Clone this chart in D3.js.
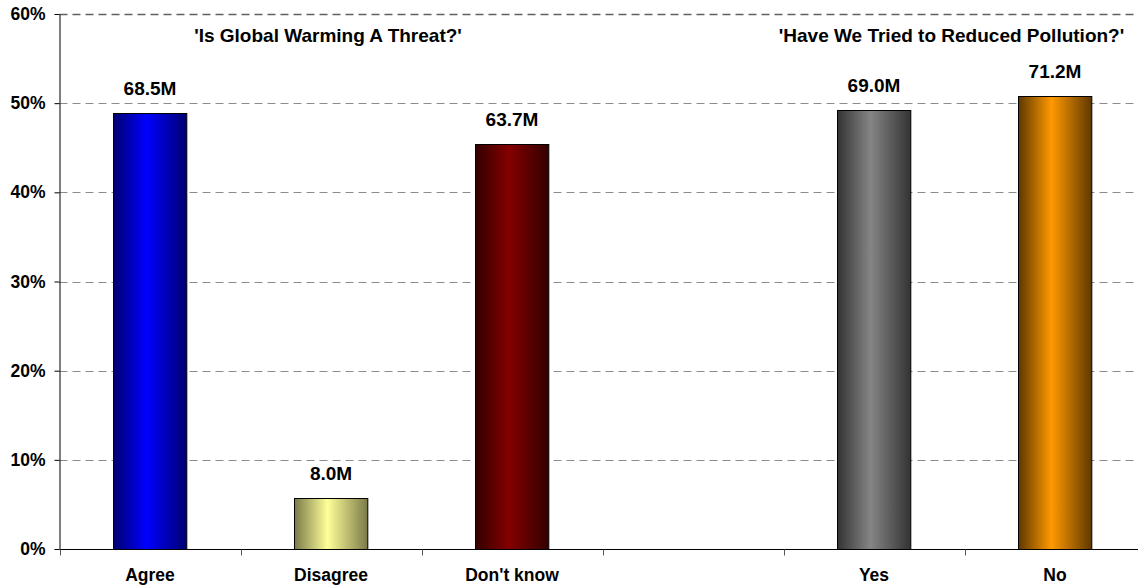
<!DOCTYPE html>
<html><head><meta charset="utf-8">
<script src="https://cdn.jsdelivr.net/npm/d3@7"></script>
<style>body{margin:0;background:#fff}svg{display:block}text{font-family:"Liberation Sans",Arial,sans-serif;font-weight:bold;fill:#000}</style>
</head><body><svg id="c" width="1138" height="587"></svg>
<script>
const categories = ["Agree","Disagree","Don't know","","Yes","No"];
const percents = [48.9, 5.7, 45.4, null, 49.2, 50.8];
const valueLabels = ["68.5M","8.0M","63.7M","","69.0M","71.2M"];
const yTicks = [0,10,20,30,40,50,60];
const groupTitles = ["'Is Global Warming A Threat?'","'Have We Tried to Reduced Pollution?'"];
const groupSpans = [["Agree","Don't know"],["Yes","No"]];
const colorsEdge = ["#000070","#7a7a48","#330000","#333333","#5e3800"];
const colorsMid  = ["#0000ff","#ffff99","#840000","#858585","#ff9900"];

const svg = d3.select("#c");
const plotLeft = 59.5, plotTop = 14, plotBottom = 549, slot = 181;
const x = d3.scaleBand().domain(categories).range([plotLeft, plotLeft + slot*categories.length]).padding(0);
const y = d3.scaleLinear().domain([0,60]).range([plotBottom, plotTop]);

const defs = svg.append("defs");
const barIdx = categories.map((c,i)=>i).filter(i=>percents[i]!=null);
barIdx.forEach((i,k)=>{
  const g = defs.append("linearGradient").attr("id","g"+i).attr("x1","0").attr("x2","1").attr("y1","0").attr("y2","0");
  g.append("stop").attr("offset","0").attr("stop-color",colorsEdge[k]);
  g.append("stop").attr("offset","0.45").attr("stop-color",colorsMid[k]);
  g.append("stop").attr("offset","1").attr("stop-color",colorsEdge[k]);
});

// gridlines
svg.append("g").selectAll("line").data(yTicks.filter(t=>t>0)).join("line")
  .attr("x1",plotLeft).attr("x2",1138).attr("y1",d=>Math.round(y(d))+0.5).attr("y2",d=>Math.round(y(d))+0.5)
  .attr("stroke",d=>d===60?"#606060":"#8c8c8c").attr("stroke-width",d=>d===60?1.5:1)
  .attr("stroke-dasharray","8,5");

// y axis
const yAxis = svg.append("g").attr("transform",`translate(${plotLeft},0)`)
  .call(d3.axisLeft(y).tickValues(yTicks).tickFormat(d=>d+"%").tickSize(5).tickSizeOuter(0));
yAxis.select(".domain").attr("stroke","#000");
yAxis.selectAll(".tick line").attr("stroke","#000");
yAxis.selectAll(".tick text").attr("x",-14).attr("font-size",17.5).attr("font-family","Liberation Sans, Arial, sans-serif").attr("font-weight","bold").attr("fill","#000");

// x axis
const xAxis = svg.append("g").attr("transform",`translate(0,${plotBottom+0.5})`);
xAxis.append("line").attr("x1",plotLeft).attr("x2",1138).attr("stroke","#000");
xAxis.selectAll("line.t").data(categories).join("line").attr("class","t")
  .attr("x1",d=>Math.round(x(d))+0.5).attr("x2",d=>Math.round(x(d))+0.5).attr("y1",0).attr("y2",6).attr("stroke","#555");
xAxis.selectAll("text").data(categories).join("text")
  .attr("x",d=>x(d)+x.bandwidth()/2).attr("y",31).attr("text-anchor","middle").attr("font-size",17.5).text(d=>d);

// bars
const bw = x.bandwidth()*0.405;
svg.append("g").selectAll("rect").data(barIdx).join("rect")
  .attr("x",i=>Math.round(x(categories[i])+x.bandwidth()/2-bw/2)+0.5)
  .attr("y",i=>Math.round(y(percents[i]))+0.5)
  .attr("width",bw).attr("height",i=>plotBottom-Math.round(y(percents[i])))
  .attr("fill",i=>`url(#g${i})`).attr("stroke","#000").attr("stroke-width",1);

// value labels
svg.append("g").selectAll("text").data(barIdx).join("text")
  .attr("x",i=>x(categories[i])+x.bandwidth()/2).attr("y",i=>y(percents[i])-18)
  .attr("text-anchor","middle").attr("font-size",19).text(i=>valueLabels[i]);

// group titles
svg.append("g").selectAll("text").data(groupTitles).join("text")
  .attr("x",(d,k)=>(x(groupSpans[k][0]) + x(groupSpans[k][1]) + x.bandwidth())/2 + (k===0?-3:-13))
  .attr("y",42).attr("text-anchor","middle").attr("font-size",19).text(d=>d);
</script></body></html>
